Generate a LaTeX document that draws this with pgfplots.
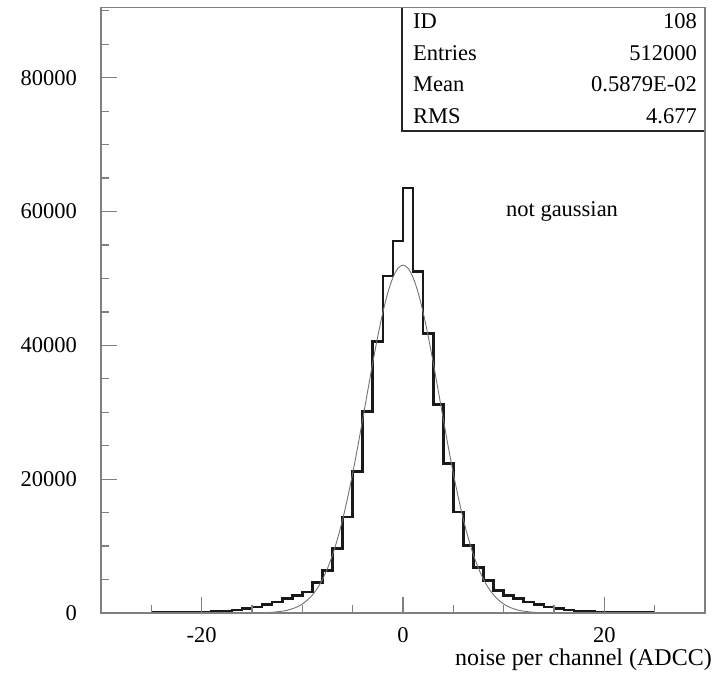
\documentclass[border=0pt]{standalone}
\usepackage{fontspec}
\setmainfont{Liberation Serif}
\usepackage{pgfplots}
\pgfplotsset{compat=1.18}
\newcommand{\fs}{\fontsize{22.5bp}{26bp}\selectfont}
\begin{document}
\begin{tikzpicture}
\useasboundingbox (-101bp,-60bp) rectangle (615bp,613bp);
\begin{axis}[
  scale only axis, width=604bp, height=605.5bp,
  at={(0,0)}, anchor=south west,
  xmin=-30, xmax=30, ymin=0, ymax=90500,
  clip mode=individual,
  axis line style={draw=black!50, line width=1.6bp},
  tick style={draw=black!50, line width=1.3bp},
  major tick length=16bp, minor tick length=8bp,
  tick align=inside, xtick pos=bottom, ytick pos=left,
  xtick={-20,0,20}, minor xtick={-25,-15,-10,-5,5,10,15,25},
  ytick={0,20000,40000,60000,80000},
  minor ytick={5000,10000,...,90000},
  scaled y ticks=false,
  /pgf/number format/1000 sep={},
  /pgf/number format/assume math mode=true,
  tick label style={font=\fs},
  xticklabel style={anchor=north, inner sep=0pt, yshift=-14bp},
  yticklabel style={anchor=east, inner sep=0pt, xshift=-24bp},
  axis on top,
]
% histogram, bin left edges
\addplot[const plot, draw=black!90, line width=2.7bp] coordinates {
(-25,40) (-24,55) (-23,75) (-22,95) (-21,120) (-20,150) (-19,200) (-18,300)
(-17,450) (-16,650) (-15,900) (-14,1300) (-13,1650) (-12,2150) (-11,2650)
(-10,3150) (-9,4600) (-8,6350) (-7,9600) (-6,14350) (-5,21100) (-4,30100)
(-3,40600) (-2,50350) (-1,55600) (0,63500) (1,51000) (2,41750) (3,31200)
(4,22350) (5,15100) (6,10100) (7,6800) (8,4850) (9,3400) (10,2650)
(11,2150) (12,1650) (13,1300) (14,900) (15,650) (16,450) (17,300) (18,200)
(19,150) (20,120) (21,95) (22,75) (23,55) (24,40) (25,40)
};
% gaussian fit
\addplot[draw=black!55, line width=0.9bp, smooth] coordinates {
(-16,0) (-15,14) (-14,40) (-13,108) (-12,270) (-11.5,415) (-11,626) (-10.5,927)
(-10,1348) (-9.5,1925) (-9,2699) (-8.5,3715) (-8,5021) (-7.5,6664) (-7,8685)
(-6.5,11113) (-6,13963) (-5.5,17226) (-5,20867) (-4.5,24819) (-4,28987)
(-3.5,33243) (-3,37434) (-2.5,41387) (-2,44932) (-1.5,47897) (-1,50135)
(-0.5,51527) (0,52000) (0.5,51527) (1,50135) (1.5,47897) (2,44932)
(2.5,41387) (3,37434) (3.5,33243) (4,28987) (4.5,24819) (5,20867)
(5.5,17226) (6,13963) (6.5,11113) (7,8685) (7.5,6664) (8,5021) (8.5,3715)
(9,2699) (9.5,1925) (10,1348) (10.5,927) (11,626) (11.5,415) (12,270)
(13,108) (14,40) (15,14) (16,0)
};
% stats box
\draw[black!85, line width=1.6bp, fill=white] (rel axis cs:0.498,0.796) rectangle (rel axis cs:1,1);
\node[font=\fs, anchor=base west, inner sep=0pt] at (rel axis cs:0.5166,0.9645) {ID};
\node[font=\fs, anchor=base west, inner sep=0pt] at (rel axis cs:0.5166,0.9130) {Entries};
\node[font=\fs, anchor=base west, inner sep=0pt] at (rel axis cs:0.5166,0.8610) {Mean};
\node[font=\fs, anchor=base west, inner sep=0pt] at (rel axis cs:0.5166,0.8090) {RMS};
\node[font=\fs, anchor=base east, inner sep=0pt] at (rel axis cs:0.9868,0.9645) {108};
\node[font=\fs, anchor=base east, inner sep=0pt] at (rel axis cs:0.9868,0.9130) {512000};
\node[font=\fs, anchor=base east, inner sep=0pt] at (rel axis cs:0.9868,0.8610) {0.5879E-02};
\node[font=\fs, anchor=base east, inner sep=0pt] at (rel axis cs:0.9868,0.8090) {4.677};
\node[font=\fs, anchor=base, inner sep=0pt] at (axis cs:15.8,59300) {not gaussian};
\node[font=\fontsize{24bp}{28bp}\selectfont, anchor=base east, inner sep=0pt] at (rel axis cs:1.0116,-0.087) {noise per channel (ADCC)};
\end{axis}
\end{tikzpicture}
\end{document}
